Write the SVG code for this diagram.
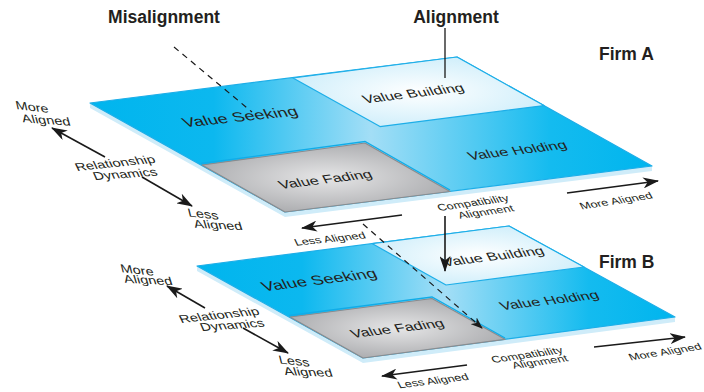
<svg xmlns="http://www.w3.org/2000/svg" width="704" height="392" viewBox="0 0 704 392">
<style>
text{font-family:"Liberation Sans",Arial,sans-serif;fill:#231F20}
.title{font-size:17.5px;font-weight:bold}
.plab{font-size:16px;text-anchor:middle}
.big{font-size:18px}
.side{font-size:14.5px;text-anchor:middle}
.axis{font-size:12.5px;text-anchor:middle}
.edge{stroke:#1DAEE8;stroke-width:1.2;stroke-linejoin:round}
.strip{fill:#CFECF9}
.gray{stroke:#8A8B8E;stroke-width:1.2;stroke-linejoin:round}
.hl{fill:none;stroke:#10ACE8;stroke-width:1.4}
.arrow{stroke:#1A1A1A;stroke-width:1.6;fill:none;marker-end:url(#ah)}
.dash{stroke:#1A1A1A;stroke-width:1.2;fill:none;stroke-dasharray:6 5}
</style>
<defs>
<marker id="ah" viewBox="0 0 16 11" refX="15" refY="5.5" markerWidth="16" markerHeight="11" markerUnits="userSpaceOnUse" orient="auto">
<path d="M0,0 L16,5.5 L0,11 L4.5,5.5 z" fill="#1A1A1A"/>
</marker>
<marker id="ahs" viewBox="0 0 12 9" refX="11" refY="4.5" markerWidth="12" markerHeight="9" markerUnits="userSpaceOnUse" orient="auto">
<path d="M0,0 L12,4.5 L0,9 L3.5,4.5 z" fill="#1A1A1A"/>
</marker>
<linearGradient id="gA" gradientUnits="userSpaceOnUse" x1="90" y1="0" x2="652" y2="0">
<stop offset="0" stop-color="#00B5EE"/>
<stop offset="0.22" stop-color="#0CB8EF"/>
<stop offset="0.5" stop-color="#A3DEF6"/>
<stop offset="0.82" stop-color="#14BBEF"/>
<stop offset="1" stop-color="#00B5EE"/>
</linearGradient>
<linearGradient id="gB" gradientUnits="userSpaceOnUse" x1="197" y1="0" x2="675" y2="0">
<stop offset="0" stop-color="#00B5EE"/>
<stop offset="0.22" stop-color="#0CB8EF"/>
<stop offset="0.52" stop-color="#A3DEF6"/>
<stop offset="0.82" stop-color="#14BBEF"/>
<stop offset="1" stop-color="#00B5EE"/>
</linearGradient>
<radialGradient id="vb" cx="0.5" cy="0.5" r="0.6">
<stop offset="0" stop-color="#FFFFFF"/>
<stop offset="1" stop-color="#C9ECFA"/>
</radialGradient>
<radialGradient id="vf" cx="0.5" cy="0.5" r="0.6">
<stop offset="0" stop-color="#E6E6E7"/>
<stop offset="1" stop-color="#A4A5A8"/>
</radialGradient>
</defs>

<g id="firmA">
<polygon class="strip" points="90,103 285,212 652,166 652,171 285,217 90,108"/>
<polygon class="edge" fill="url(#gA)" points="90,103 457,57 652,166 285,212"/>
<g id="a-value-building">
<polygon class="edge" fill="url(#vb)" points="293,78 457,57 544,105.6 380,126.6"/>
<text class="plab" transform="translate(413,93) rotate(-7) skewX(20) scale(1,0.75)" y="6">Value Building</text>
</g>
<g id="a-value-fading">
<polygon class="gray" fill="url(#vf)" points="202,165 365,143 450,191.5 285,212"/>
<polyline class="hl" points="201,163.5 365,141.5 450,190"/>
<text class="plab" transform="translate(325,179) rotate(-7) skewX(20) scale(1,0.75)" y="6">Value Fading</text>
</g>
<g id="a-value-seeking">
<text class="plab big" transform="translate(240,117) rotate(-6) skewX(20) scale(1,0.75)" y="6">Value Seeking</text>
</g>
<g id="a-value-holding">
<text class="plab" transform="translate(517,150) rotate(-7) skewX(20) scale(1,0.75)" y="6">Value Holding</text>
</g>
</g>

<g id="firmB">
<polygon class="strip" points="197,266 363,358 675,317 675,322 363,363 197,271"/>
<polygon class="edge" fill="url(#gB)" points="197,266 509,226 675,317 363,358"/>
<g id="b-value-building">
<polygon class="edge" fill="url(#vb)" points="372,243.6 509,226 584,267 446,285"/>
<text class="plab" transform="translate(493,256) rotate(-7) skewX(20) scale(1,0.75)" y="6">Value Building</text>
</g>
<g id="b-value-fading">
<polygon class="gray" fill="url(#vf)" points="290,317 432,298.5 505,339.3 363,358"/>
<polyline class="hl" points="289,315.5 432,297 505,338"/>
<text class="plab" transform="translate(397,328) rotate(-7) skewX(20) scale(1,0.75)" y="6">Value Fading</text>
</g>
<g id="b-value-seeking">
<text class="plab big" transform="translate(319,280) rotate(-7) skewX(20) scale(1,0.75)" y="6">Value Seeking</text>
</g>
<g id="b-value-holding">
<text class="plab" transform="translate(549,300) rotate(-7) skewX(20) scale(1,0.75)" y="6">Value Holding</text>
</g>
</g>

<g id="connectors">
<line class="dash" x1="174" y1="47" x2="252" y2="112"/>
<line x1="445" y1="28" x2="445" y2="78" stroke="#1A1A1A" stroke-width="1.3"/>
<line class="dash" x1="363" y1="224" x2="482" y2="328" marker-end="url(#ahs)"/>
<line class="arrow" x1="445" y1="216" x2="445" y2="271"/>
<line class="arrow" x1="105" y1="157" x2="52" y2="128"/>
<line class="arrow" x1="142" y1="177" x2="192" y2="206"/>
<line class="arrow" x1="402" y1="215" x2="302" y2="228"/>
<line class="arrow" x1="567" y1="193" x2="658" y2="181"/>
<line class="arrow" x1="205" y1="308" x2="167" y2="286"/>
<line class="arrow" x1="243" y1="328" x2="288" y2="353"/>
<line class="arrow" x1="467" y1="365" x2="382" y2="376"/>
<line class="arrow" x1="594" y1="347" x2="685" y2="337"/>
</g>

<g id="labels">
<text class="title" x="164" y="23" text-anchor="middle">Misalignment</text>
<text class="title" x="456" y="23" text-anchor="middle">Alignment</text>
<text class="title" x="599" y="60">Firm A</text>
<text class="title" x="599" y="268">Firm B</text>

<text class="side" transform="translate(32,107) rotate(7) skewX(20) scale(1,0.78)" y="5">More</text>
<text class="side" transform="translate(46,120) rotate(4) skewX(20) scale(1,0.78)" y="5">Aligned</text>
<text class="side" transform="translate(115,163) rotate(-6) skewX(20) scale(1,0.78)" y="5">Relationship</text>
<text class="side" transform="translate(125,174) rotate(-4) skewX(20) scale(1,0.78)" y="5">Dynamics</text>
<text class="side" transform="translate(203,214) rotate(6) skewX(20) scale(1,0.78)" y="5">Less</text>
<text class="side" transform="translate(218,225) rotate(3) skewX(20) scale(1,0.78)" y="5">Aligned</text>
<text class="axis" transform="translate(330,239) rotate(-6) skewX(20) scale(1,0.78)" y="4">Less Aligned</text>
<text class="axis" transform="translate(473,203) rotate(-8) skewX(20) scale(1,0.78)" y="4">Compatibility</text>
<text class="axis" transform="translate(486,212) rotate(-8) skewX(20) scale(1,0.78)" y="4">Alignment</text>
<text class="axis" transform="translate(616,201) rotate(-9) skewX(20) scale(1,0.78)" y="4">More Aligned</text>

<text class="side" transform="translate(137,270) rotate(6) skewX(20) scale(1,0.78)" y="5">More</text>
<text class="side" transform="translate(148,280) rotate(3) skewX(20) scale(1,0.78)" y="5">Aligned</text>
<text class="side" transform="translate(219,315) rotate(-6) skewX(20) scale(1,0.78)" y="5">Relationship</text>
<text class="side" transform="translate(232,325) rotate(-4) skewX(20) scale(1,0.78)" y="5">Dynamics</text>
<text class="side" transform="translate(294,361) rotate(6) skewX(20) scale(1,0.78)" y="5">Less</text>
<text class="side" transform="translate(308,372) rotate(2) skewX(20) scale(1,0.78)" y="5">Aligned</text>
<text class="axis" transform="translate(433,381) rotate(-7) skewX(20) scale(1,0.78)" y="4">Less Aligned</text>
<text class="axis" transform="translate(527,355) rotate(-8) skewX(20) scale(1,0.78)" y="4">Compatibility</text>
<text class="axis" transform="translate(540,362) rotate(-8) skewX(20) scale(1,0.78)" y="4">Alignment</text>
<text class="axis" transform="translate(665,352) rotate(-9) skewX(20) scale(1,0.78)" y="4">More Aligned</text>
</g>
</svg>
